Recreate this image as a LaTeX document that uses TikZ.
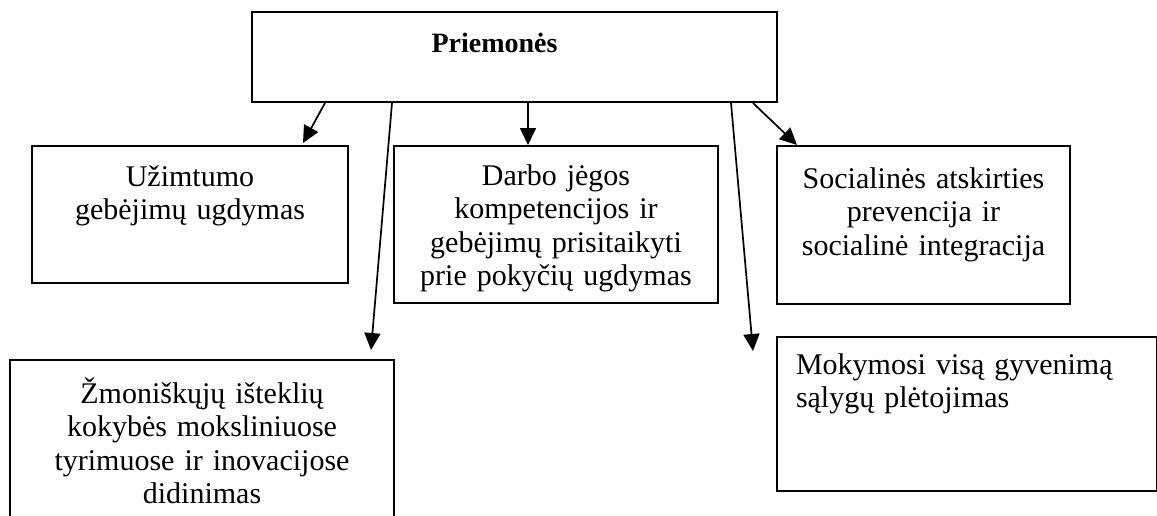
\documentclass[tikz,border=0pt]{standalone}
\usepackage{fontspec}
\setmainfont{Liberation Serif}
\usepackage{tikz}
\usetikzlibrary{arrows.meta,positioning,calc}

\begin{document}
\begin{tikzpicture}[
    x=0.5pt, y=-0.5pt,
    box/.style={rectangle, draw, line width=1pt, anchor=north west, inner xsep=0pt, inner ysep=0pt, align=center, font=\fontsize{15pt}{16.8pt}\selectfont},
    arrow/.style={->, line width=0.85pt, >={Triangle[length=8.5pt,width=8pt]}}
]
    \clip (0,0) rectangle (1157,515);

    % Top box
    \node[box, text width=262.5pt, text height=20pt, text depth=25pt, font=\fontsize{14pt}{16pt}\selectfont\bfseries] (priemones) at (251,11) {Priemonės\hspace*{20pt}\mbox{}};

    % First row
    \node[box, text width=158pt, text height=20pt, text depth=48.5pt] (uzimtumo) at (31,145) {
        Užimtumo\\
        gebėjimų ugdymas
    };
    \node[box, text width=162pt, text height=19.5pt, text depth=59pt] (darbo) at (393,145) {
        Darbo jėgos\\
        kompetencijos ir\\
        gebėjimų prisitaikyti\\
        prie pokyčių ugdymas
    };
    \node[box, text width=146.5pt, text height=21pt, text depth=58pt] (socialines) at (776,145) {
        Socialinės atskirties\\
        prevencija ir\\
        socialinė integracija
    };

    % Second row
    \node[box, text width=192pt, text height=21.5pt, text depth=71.5pt] (zmoniskuju) at (9,359) {
        Žmoniškųjų išteklių\\
        kokybės moksliniuose\\
        tyrimuose ir inovacijose\\
        didinimas
    };
    \node[box, align=left, inner xsep=9.5pt, text width=171pt, text height=18.5pt, text depth=58.5pt] (mokymosi) at (776,336) {
        Mokymosi visą gyvenimą\\
        sąlygų plėtojimas
    };

    % Arrows
    \draw[arrow] ([xshift=37pt]priemones.south west) -- ([xshift=136pt,yshift=1pt]uzimtumo.north west);
    \draw[arrow] ([xshift=70.5pt]priemones.south west) -- ([xshift=181pt,yshift=4.5pt]zmoniskuju.north west);
    \draw[arrow] ([xshift=138.5pt]priemones.south west) -- ([xshift=67.5pt]darbo.north west);
    \draw[arrow] ([xshift=240pt]priemones.south west) -- ([xshift=-11.5pt,yshift=-7.5pt]mokymosi.north west);
    \draw[arrow] ([xshift=251pt]priemones.south west) -- ([xshift=10.5pt]socialines.north west);
\end{tikzpicture}
\end{document}
